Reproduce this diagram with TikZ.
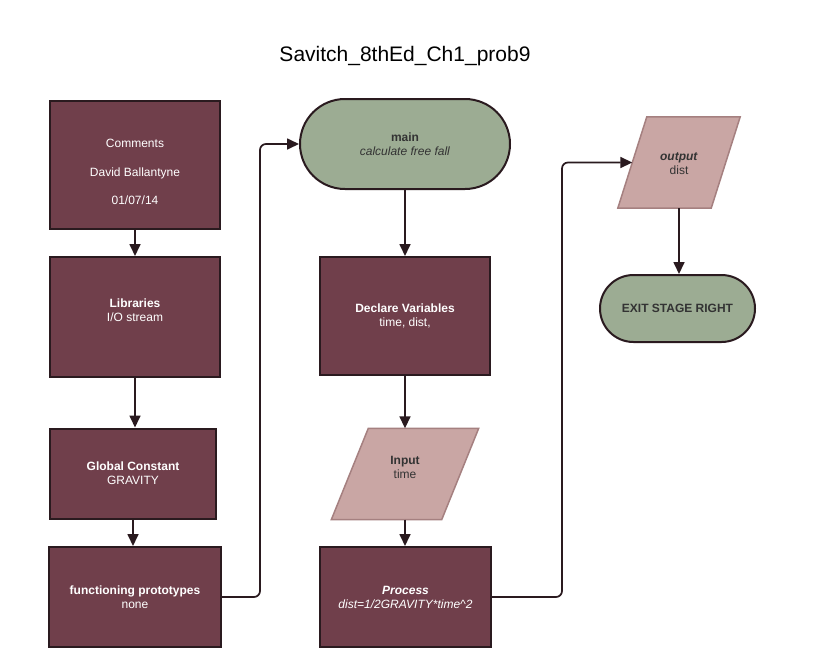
\documentclass[tikz,border=0pt]{standalone}
\usepackage{fontspec}
\setmainfont{Liberation Sans}
\usetikzlibrary{arrows.meta,calc}
\definecolor{maroon}{HTML}{703F4B}
\definecolor{edgedark}{HTML}{2A1A1F}
\definecolor{sage}{HTML}{9CAC93}
\definecolor{rose}{HTML}{C9A6A4}
\definecolor{roseedge}{HTML}{A58080}
\definecolor{darktext}{HTML}{333333}
\tikzset{
  procbox/.style={draw=edgedark, line width=2pt, fill=maroon, text=white, align=center,
    font=\fontsize{12}{14}\selectfont, inner sep=0pt},
  proctext/.style={text=white, align=center, font=\fontsize{12}{14}\selectfont, inner sep=0pt},
  termbox/.style={draw=edgedark, line width=2pt, fill=sage, text=darktext, align=center,
    font=\fontsize{12}{14}\selectfont, inner sep=0pt},
  iobox/.style={align=center, text=darktext, font=\fontsize{12}{14}\selectfont, inner sep=0pt},
  ioshape/.style={draw=roseedge, line width=1.5pt, fill=rose, line join=miter},
  conn/.style={draw=edgedark, line width=1.7pt, -{Triangle[width=11pt,length=12pt]}}
}
\begin{document}
\begin{tikzpicture}[x=1pt,y=-1pt]
\useasboundingbox[fill=white] (0,0) rectangle (827,667);

\node[anchor=base, font=\fontsize{21}{24}\selectfont, text=black] (title) at (405,61) {Savitch\_8thEd\_Ch1\_prob9};

% left column
\node[procbox, minimum width=170pt, minimum height=128pt,
  label={[proctext, font=\fontsize{12}{28.5}\selectfont, yshift=-7.5pt]center:{Comments\\David Ballantyne\\01/07/14}}]
  (comments) at (135,164.5) {};
\node[procbox, minimum width=170pt, minimum height=120pt,
  label={[proctext, yshift=7pt]center:{\textbf{Libraries}\\I/O stream}}]
  (libs) at (135,317) {};
\node[procbox, minimum width=166pt, minimum height=90pt] (glob) at (133,473.5)
  {\textbf{Global Constant}\\GRAVITY};
\node[procbox, minimum width=172pt, minimum height=100pt] (proto) at (135,597)
  {\textbf{functioning prototypes}\\none};

% middle column
\node[termbox, minimum width=210pt, minimum height=90pt, rounded corners=45pt] (main) at (405,144)
  {\textbf{main}\\\textit{calculate free fall}};
\node[procbox, minimum width=170pt, minimum height=118pt] (decl) at (405,316)
  {\textbf{Declare Variables}\\time, dist,};
\node[iobox, minimum width=110pt, minimum height=91pt] (inp) at (405,474) {};
\node[procbox, minimum width=171pt, minimum height=100pt] (proc) at (405.5,597)
  {\textbf{\textit{Process}}\\\textit{dist=1/2GRAVITY*time\^{}2}};

% right column
\node[iobox, minimum width=93pt, minimum height=91pt] (out) at (679,162.5) {};
\node[termbox, minimum width=155pt, minimum height=67pt, rounded corners=33.5pt] (exit) at (677.5,308.5)
  {\textbf{EXIT STAGE RIGHT}};

% parallelogram outlines
\draw[ioshape] ($(inp.south west)+(-18.5,0)$) -- ($(inp.south east)+(-18.5,0)$)
  -- ($(inp.north east)+(18.5,0)$) -- ($(inp.north west)+(18.5,0)$) -- cycle;
\node[iobox] (inptext) at (405,467) {\textbf{Input}\\time};
\draw[ioshape] ($(out.south west)+(-14.5,0)$) -- ($(out.south east)+(-14.5,0)$)
  -- ($(out.north east)+(14.5,0)$) -- ($(out.north west)+(14.5,0)$) -- cycle;
\node[iobox] (outtext) at (679,164) {\textbf{\textit{output}}\\dist};

% connectors
\coordinate (c1) at (260,0);
\coordinate (c2) at (562,0);
\draw[conn] (comments.south) -- (libs.north);
\draw[conn] (libs.south) -- (libs.south |- glob.north);
\draw[conn] (glob.south) -- (glob.south |- proto.north);
\draw[conn, rounded corners=6pt] (proto.east) -| (c1 |- main.west) -- (main.west);
\draw[conn] (main.south) -- (decl.north);
\draw[conn] (decl.south) -- (inp.north);
\draw[conn] (inp.south) -- (inp.south |- proc.north);
\draw[conn, rounded corners=6pt] (proc.east) -| (c2 |- out.west) -- (out.west);
\draw[conn] (out.south) -- (out.south |- exit.north);
\end{tikzpicture}
\end{document}
